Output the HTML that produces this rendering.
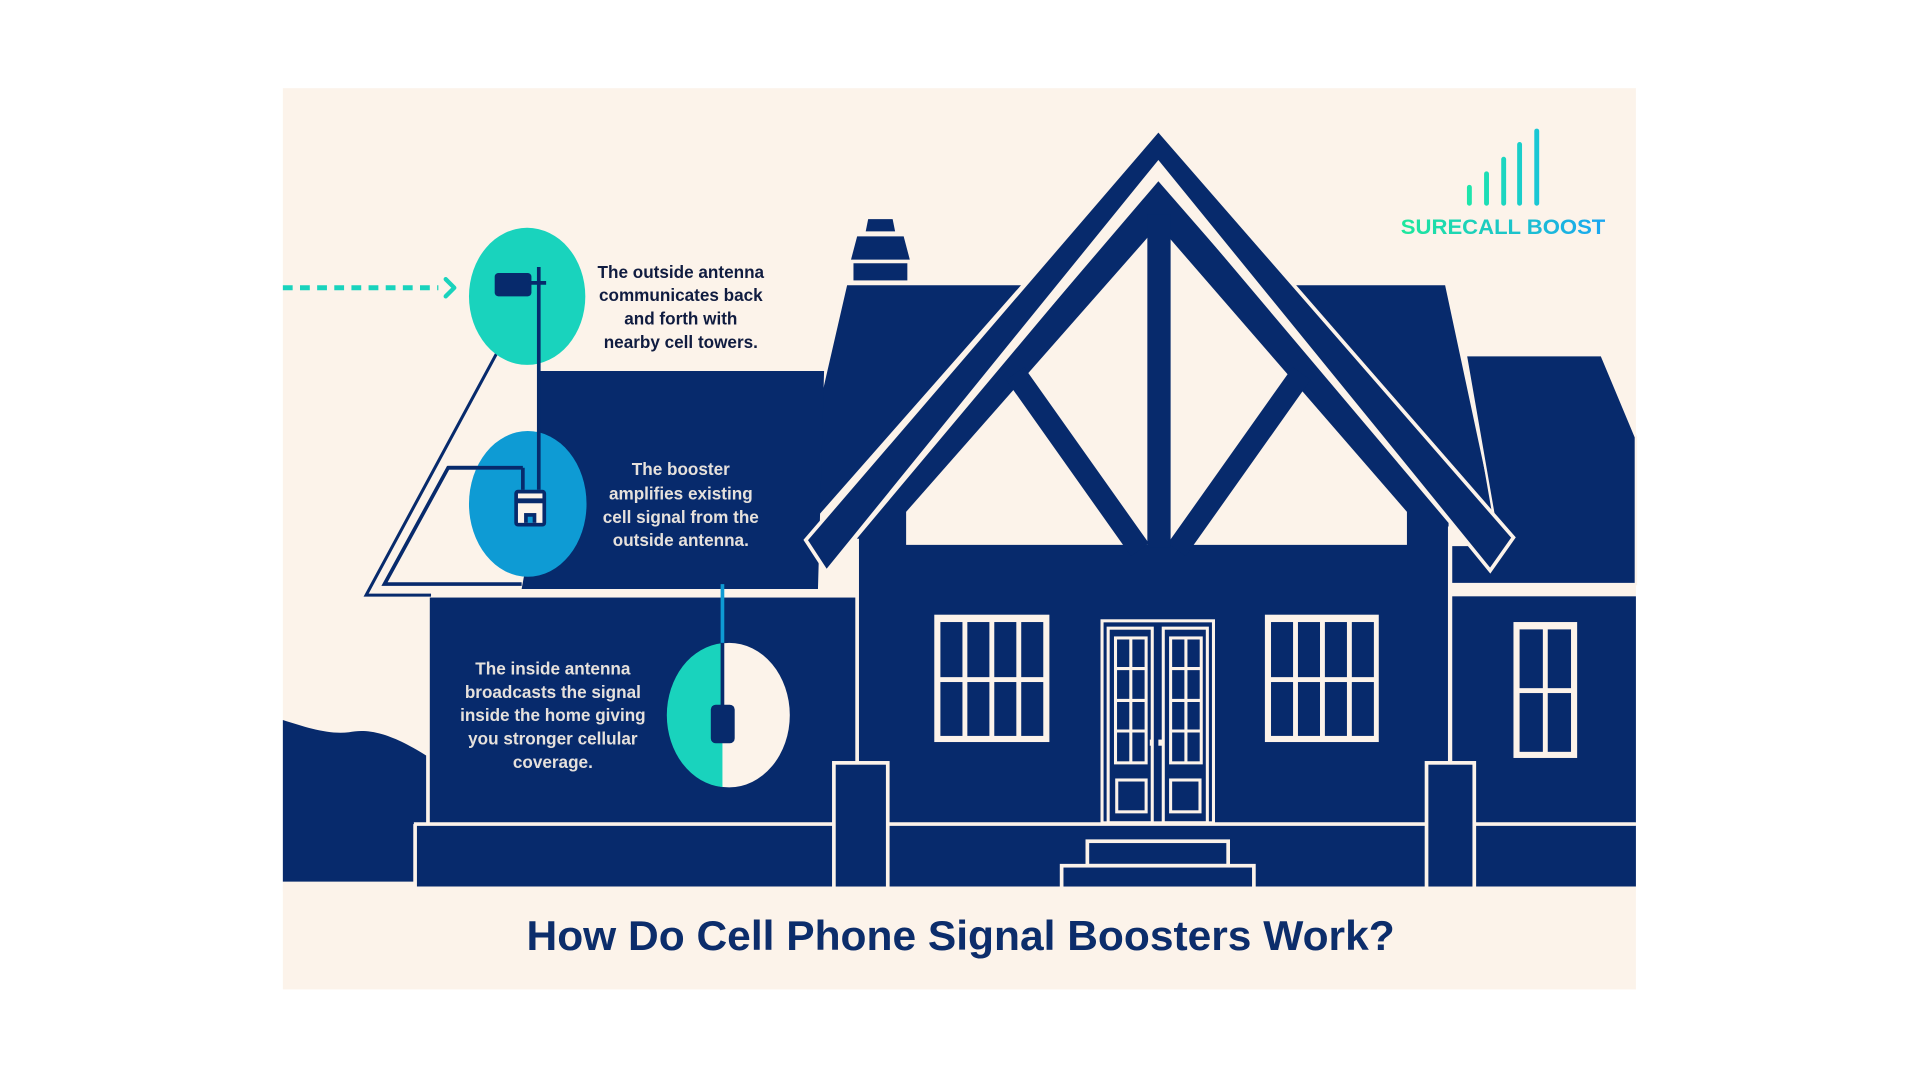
<!DOCTYPE html>
<html><head><meta charset="utf-8"><style>
html,body{margin:0;padding:0;background:#fff;width:1920px;height:1080px;overflow:hidden}
svg{display:block}
text{font-family:"Liberation Sans",sans-serif;font-weight:bold}
</style></head><body>
<svg width="1920" height="1080" viewBox="0 0 1568 882" xmlns="http://www.w3.org/2000/svg">
<defs>
<linearGradient id="lg" x1="0" x2="1" y1="0" y2="0"><stop offset="0" stop-color="#1ee89c"/><stop offset="1" stop-color="#1aa6f2"/></linearGradient>
<linearGradient id="lg2" gradientUnits="userSpaceOnUse" x1="1195" y1="0" x2="1260" y2="0"><stop offset="0" stop-color="#1ee8a8"/><stop offset="1" stop-color="#19c4d8"/></linearGradient>
</defs>
<rect x="0" y="0" width="1568" height="882" fill="#fff"/>
<rect x="231" y="72" width="1105" height="736" fill="#fcf3ea"/>
<g fill="#072a6c">
<path d="M231,588 C250,594 268,600 285,598 C300,595 318,598 348,617 L348,720 L231,720Z"/>
<polygon points="709,179 729,179 731,189 707,189"/>
<polygon points="700,193 738,193 743,212 695,212"/>
<rect x="697" y="215" width="44" height="14"/>
<polygon points="691,232 836,232 660,432 645,432" stroke="#fcf3ea" stroke-width="2"/>
<polygon points="1056,232 1181,232 1222,424 1222,445 1200,445" stroke="#fcf3ea" stroke-width="2"/>
<polygon points="441,303 673,303 668,481 426,481 441,400"/>
<rect x="351" y="488" width="349" height="184"/>
<polygon points="1197,290 1308,290 1336,357 1336,477 1185,477 1185,445 1224,445" stroke="#fcf3ea" stroke-width="2"/>
<rect x="1186" y="487" width="150" height="185"/>
<polygon points="946,148 1183,420 1183,672 700,672 700,436"/>
</g>
<line x1="700" y1="440" x2="700" y2="672" stroke="#fcf3ea" stroke-width="3"/>
<line x1="1184" y1="430" x2="1184" y2="672" stroke="#fcf3ea" stroke-width="3"/>
<line x1="351" y1="484" x2="700" y2="484" stroke="#fcf3ea" stroke-width="3"/>
<line x1="1186" y1="482" x2="1336" y2="482" stroke="#fcf3ea" stroke-width="5"/>
<polygon points="946,184 1149,418 1149,445 740,445 740,418" fill="#fcf3ea"/>
<g stroke="#072a6c" stroke-width="18">
<line x1="829" y1="305" x2="931" y2="449"/>
<line x1="1063" y1="305" x2="961" y2="449"/>
</g>
<rect x="937" y="175" width="19" height="272" fill="#072a6c"/>
<polyline points="676,462 946,140 1216,460" fill="none" stroke="#fcf3ea" stroke-width="8"/>
<polygon points="946,106 1236,439 1217,466 946,133 675,467 658,441" fill="#072a6c" stroke="#fcf3ea" stroke-width="3"/>
<g fill="#fcf3ea">
<rect x="763" y="502" width="94" height="104"/>
<rect x="1033" y="502" width="93" height="104"/>
<rect x="1236" y="508" width="52" height="111"/>
</g>
<g fill="#072a6c">
<rect x="768" y="508" width="18" height="45"/><rect x="790" y="508" width="18" height="45"/><rect x="812" y="508" width="18" height="45"/><rect x="834" y="508" width="18" height="45"/>
<rect x="768" y="557" width="18" height="44"/><rect x="790" y="557" width="18" height="44"/><rect x="812" y="557" width="18" height="44"/><rect x="834" y="557" width="18" height="44"/>
<rect x="1038" y="508" width="18" height="45"/><rect x="1060" y="508" width="18" height="45"/><rect x="1082" y="508" width="18" height="45"/><rect x="1104" y="508" width="18" height="45"/>
<rect x="1038" y="557" width="18" height="44"/><rect x="1060" y="557" width="18" height="44"/><rect x="1082" y="557" width="18" height="44"/><rect x="1104" y="557" width="18" height="44"/>
<rect x="1241" y="514" width="19" height="48"/><rect x="1264" y="514" width="19" height="48"/>
<rect x="1241" y="566" width="19" height="48"/><rect x="1264" y="566" width="19" height="48"/>
</g>
<g fill="none" stroke="#fcf3ea" stroke-width="2.5">
<rect x="900" y="507" width="91" height="165"/>
<rect x="905" y="513" width="36" height="159"/>
<rect x="950" y="513" width="36" height="159"/>
<rect x="911" y="521" width="25" height="102"/>
<rect x="956" y="521" width="25" height="102"/>
<line x1="923.5" y1="521" x2="923.5" y2="623"/><line x1="968.5" y1="521" x2="968.5" y2="623"/>
<line x1="911" y1="546" x2="936" y2="546"/><line x1="911" y1="572" x2="936" y2="572"/><line x1="911" y1="597" x2="936" y2="597"/>
<line x1="956" y1="546" x2="981" y2="546"/><line x1="956" y1="572" x2="981" y2="572"/><line x1="956" y1="597" x2="981" y2="597"/>
<rect x="912" y="637" width="24" height="26"/>
<rect x="956" y="637" width="24" height="26"/>
</g>
<rect x="939" y="604" width="3" height="5" fill="#fcf3ea"/><rect x="946" y="604" width="3" height="5" fill="#fcf3ea"/>
<rect x="338" y="674" width="998" height="50" fill="#072a6c"/>
<line x1="338" y1="673" x2="1336" y2="673" stroke="#fcf3ea" stroke-width="3"/>
<line x1="339" y1="673" x2="339" y2="724" stroke="#fcf3ea" stroke-width="3"/>
<g fill="#072a6c" stroke="#fcf3ea" stroke-width="3">
<rect x="681" y="623" width="44" height="103"/>
<rect x="1165" y="623" width="39" height="103"/>
<rect x="888" y="687" width="115" height="20"/>
<rect x="867" y="707" width="157" height="19"/>
</g>
<rect x="231" y="724" width="1105" height="4" fill="#fcf3ea"/>
<path d="M407,286 L299,486 L352,486" fill="none" stroke="#072a6c" stroke-width="2.5"/>
<path d="M427,400 L427,382 L366,382 L314,477 L426,477" fill="none" stroke="#072a6c" stroke-width="3"/>
<line x1="231" y1="235" x2="358" y2="235" stroke="#19d3bd" stroke-width="4" stroke-dasharray="8,6"/>
<polyline points="364,228 371,235 364,242" fill="none" stroke="#19d3bd" stroke-width="3.5" stroke-linecap="round" stroke-linejoin="round"/>
<ellipse cx="430.5" cy="242" rx="47.5" ry="56" fill="#19d3bd"/>
<rect x="404" y="223" width="30" height="19" rx="3" fill="#072a6c"/>
<line x1="432" y1="231" x2="446" y2="231" stroke="#072a6c" stroke-width="3"/>
<line x1="440" y1="218" x2="440" y2="400" stroke="#072a6c" stroke-width="3"/>
<ellipse cx="431" cy="411.5" rx="48" ry="59.5" fill="#0e9bd4"/>
<line x1="427" y1="382" x2="427" y2="400" stroke="#072a6c" stroke-width="3"/>
<line x1="366" y1="382" x2="427" y2="382" stroke="#072a6c" stroke-width="3"/>
<line x1="440" y1="352" x2="440" y2="400" stroke="#072a6c" stroke-width="3"/>
<rect x="420" y="400" width="26" height="30" rx="3" fill="#072a6c"/>
<rect x="423" y="403" width="20" height="4" fill="#fcf3ea"/>
<rect x="423" y="411" width="20" height="16" fill="#fcf3ea"/>
<rect x="428" y="419" width="10" height="8" fill="#072a6c"/>
<rect x="431" y="422" width="4" height="5" fill="#0e9bd4"/>
<line x1="590" y1="477" x2="590" y2="530" stroke="#0e9bd4" stroke-width="3"/>
<ellipse cx="595.5" cy="584" rx="49.5" ry="59" fill="#fcf3ea"/>
<path d="M590,525.2 A49.5,59 0 0 0 590,642.8 Z" fill="#19d3bd"/>
<line x1="590" y1="525" x2="590" y2="578" stroke="#072a6c" stroke-width="3"/>
<rect x="580.5" y="575.5" width="19.5" height="31.5" rx="4" fill="#072a6c"/>
<g font-size="14" text-anchor="middle">
<g fill="#101c40">
<text x="556" y="227">The outside antenna</text>
<text x="556" y="246">communicates back</text>
<text x="556" y="265">and forth with</text>
<text x="556" y="284">nearby cell towers.</text>
</g>
<g fill="#e6e1dc">
<text x="556" y="388">The booster</text>
<text x="556" y="408">amplifies existing</text>
<text x="556" y="427">cell signal from the</text>
<text x="556" y="446">outside antenna.</text>
<text x="451.5" y="551">The inside antenna</text>
<text x="451.5" y="570">broadcasts the signal</text>
<text x="451.5" y="589">inside the home giving</text>
<text x="451.5" y="608">you stronger cellular</text>
<text x="451.5" y="627">coverage.</text>
</g>
</g>
<g stroke="url(#lg2)" stroke-width="4" stroke-linecap="round">
<line x1="1200" y1="153" x2="1200" y2="166"/>
<line x1="1214" y1="142" x2="1214" y2="166"/>
<line x1="1228" y1="130" x2="1228" y2="166"/>
<line x1="1241" y1="118" x2="1241" y2="166"/>
<line x1="1255" y1="107" x2="1255" y2="166"/>
</g>
<text x="1144" y="191" font-size="17.5" fill="url(#lg)" textLength="167" lengthAdjust="spacingAndGlyphs">SURECALL BOOST</text>
<text x="430" y="776" font-size="34" fill="#0c2d6b" textLength="709" lengthAdjust="spacingAndGlyphs">How Do Cell Phone Signal Boosters Work?</text>
</svg>
</body></html>
